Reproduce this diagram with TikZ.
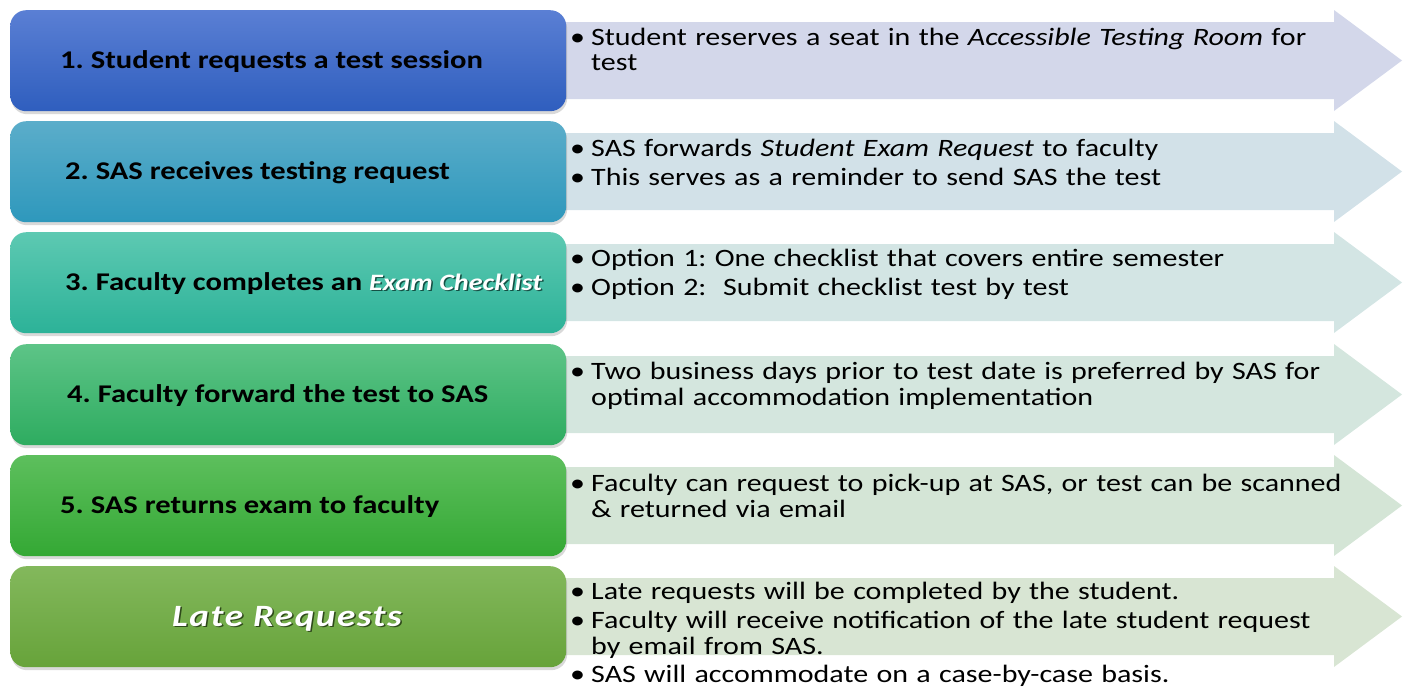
\documentclass[tikz,border=0pt]{standalone}
\usepackage{fontspec}
\setmainfont{Carlito}[FakeStretch=1.2]
\usetikzlibrary{shadows}

% box shades, top and bottom
\definecolor{boxAtop}{RGB}{90,127,212}
\definecolor{boxAbot}{RGB}{47,94,190}
\definecolor{boxBtop}{RGB}{91,173,202}
\definecolor{boxBbot}{RGB}{46,152,188}
\definecolor{boxCtop}{RGB}{93,201,178}
\definecolor{boxCbot}{RGB}{44,178,152}
\definecolor{boxDtop}{RGB}{93,196,135}
\definecolor{boxDbot}{RGB}{46,172,96}
\definecolor{boxEtop}{RGB}{93,191,93}
\definecolor{boxEbot}{RGB}{52,168,52}
\definecolor{boxFtop}{RGB}{131,184,92}
\definecolor{boxFbot}{RGB}{103,163,58}
% arrow fills
\definecolor{arrA}{RGB}{211,215,234}
\definecolor{arrB}{RGB}{210,225,232}
\definecolor{arrC}{RGB}{211,229,228}
\definecolor{arrD}{RGB}{212,230,222}
\definecolor{arrE}{RGB}{212,229,214}
\definecolor{arrF}{RGB}{216,229,211}

% one bullet with a hanging indent, ended inside the node group
\newcommand{\bitem}[1]{\noindent\hangindent=21pt\hangafter=1\makebox[21pt][l]{\textbullet}\strut#1\par}
% white words with a dark copy just below them
\newcommand{\whiteshadow}[2]{\rlap{\kern1.5pt\raisebox{-1.5pt}{\textcolor{#2}{#1}}}\textcolor{white}{#1}}

\begin{document}
\frenchspacing
\begin{tikzpicture}
[x=1pt, y=1pt, every node/.style={inner sep=0pt},
 stepbox/.style={rounded corners=16pt, minimum width=556pt, minimum height=101pt, anchor=north west,
   drop shadow={shadow xshift=1pt, shadow yshift=-3pt, opacity=0.3}},
 title/.style={anchor=base west, font=\bfseries\fontsize{25.5}{30}\selectfont},
 notes/.style={anchor=north west, text width=840pt, align=left,
   font=\fontsize{25}{24.5}\selectfont\setlength{\parskip}{3.5pt}}]
\useasboundingbox (0,0) rectangle (1404,-686);

% arrows behind the boxes
\fill [arrA] (540,-22) -- (1334,-22) -- (1334,-10) -- (1402,-60.5) -- (1334,-111) -- (1334,-99) -- (540,-99) -- cycle;
\fill [arrB] (540,-133) -- (1334,-133) -- (1334,-121) -- (1402,-171.5) -- (1334,-222) -- (1334,-210) -- (540,-210) -- cycle;
\fill [arrC] (540,-244) -- (1334,-244) -- (1334,-232) -- (1402,-282.5) -- (1334,-333) -- (1334,-321) -- (540,-321) -- cycle;
\fill [arrD] (540,-356) -- (1334,-356) -- (1334,-344) -- (1402,-394.5) -- (1334,-445) -- (1334,-433) -- (540,-433) -- cycle;
\fill [arrE] (540,-467) -- (1334,-467) -- (1334,-455) -- (1402,-505.5) -- (1334,-556) -- (1334,-544) -- (540,-544) -- cycle;
\fill [arrF] (540,-578) -- (1334,-578) -- (1334,-566) -- (1402,-616.5) -- (1334,-667) -- (1334,-655) -- (540,-655) -- cycle;

% step boxes
\node (reqbox) [stepbox, top color=boxAtop, bottom color=boxAbot] at (10,-10) {};
\node (recvbox) [stepbox, top color=boxBtop, bottom color=boxBbot] at (10,-121) {};
\node (checkbox) [stepbox, top color=boxCtop, bottom color=boxCbot] at (10,-232) {};
\node (fwdbox) [stepbox, top color=boxDtop, bottom color=boxDbot] at (10,-344) {};
\node (retbox) [stepbox, top color=boxEtop, bottom color=boxEbot] at (10,-455) {};
\node (latebox) [stepbox, top color=boxFtop, bottom color=boxFbot] at (10,-566) {};

% step titles
\node (req) [title] at (60,-68) {1. Student requests a test session};
\node (recv) [title] at (65,-179) {2. SAS receives testing request};
\node (check) [title] at (65,-290) {3. Faculty completes an {\fontsize{23.5}{28}\selectfont\itshape\whiteshadow{Exam Checklist}{black!55!boxCbot}}};
\node (fwd) [title] at (67,-402) {4. Faculty forward the test to SAS};
\node (ret) [title] at (60,-513) {5. SAS returns exam to faculty};
\node (late) [title, font=\bfseries\itshape\fontsize{31}{34}\selectfont\addfontfeature{LetterSpace=5}] at (172,-626) {\whiteshadow{Late Requests}{black!55!boxFbot}};

% notes on the arrows
\node (reqnote) [notes] at (570,-28) {\bitem{Student reserves a seat in the \textit{Accessible Testing Room} for\newline test}};
\node (recvnote) [notes] at (570,-139) {\bitem{SAS forwards \textit{Student Exam Request} to faculty}
  \bitem{This serves as a reminder to send SAS the test}};
\node (checknote) [notes] at (570,-249) {\bitem{Option 1: One checklist that covers entire semester}
  \bitem{Option 2: \ Submit checklist test by test}};
\node (fwdnote) [notes] at (570,-362) {\bitem{Two business days prior to test date is preferred by SAS for\newline optimal accommodation implementation}};
\node (retnote) [notes] at (570,-474) {\bitem{Faculty can request to pick-up at SAS, or test can be scanned\newline \& returned via email}};
\node (latenote) [notes] at (570,-582) {\bitem{Late requests will be completed by the student.}
  \bitem{Faculty will receive notification of the late student request\newline by email from SAS.}
  \bitem{SAS will accommodate on a case-by-case basis.}};
\end{tikzpicture}
\end{document}
